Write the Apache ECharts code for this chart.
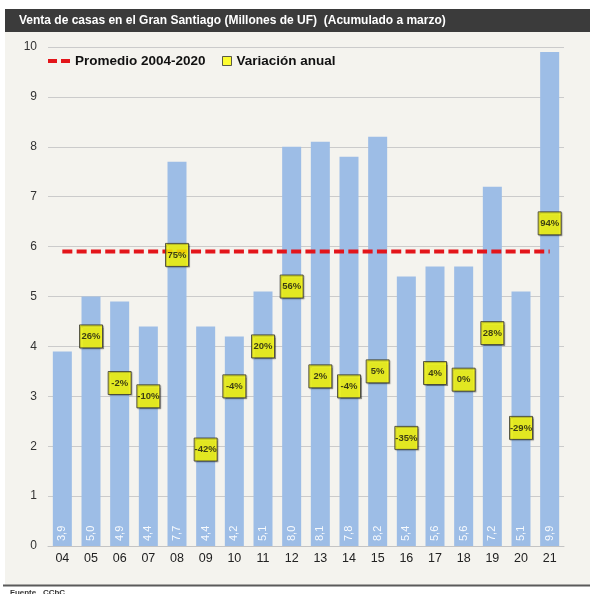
<!DOCTYPE html>
<html>
<head>
<meta charset="utf-8">
<script src="https://cdn.jsdelivr.net/npm/echarts@6/dist/echarts.min.js"></script>
<style>
  html, body { margin: 0; padding: 0; background: #ffffff; }
  #chart { width: 590px; height: 594px; }
</style>
</head>
<body>
<div id="chart"></div>
<script>
// Years (2004–2021), sales in millions of UF accumulated to March
const years = ['04', '05', '06', '07', '08', '09', '10', '11', '12', '13', '14', '15', '16', '17', '18', '19', '20', '21'];
const ventas = [3.9, 5.0, 4.9, 4.4, 7.7, 4.4, 4.2, 5.1, 8.0, 8.1, 7.8, 8.2, 5.4, 5.6, 5.6, 7.2, 5.1, 9.9];
// Annual change (%), no value for the first year
const variacion = [null, 26, -2, -10, 75, -42, -4, 20, 56, 2, -4, 5, -35, 4, 0, 28, -29, 94];
// 2004–2020 average
const promedio = 5.9;

const FONT = "'Liberation Sans', Arial, Helvetica, sans-serif";

const chart = echarts.init(document.getElementById('chart'), null, { renderer: 'canvas' });

chart.setOption({
  animation: false,
  backgroundColor: '#ffffff',
  textStyle: { fontFamily: FONT },
  title: {
    text: 'Venta de casas en el Gran Santiago (Millones de UF)  (Acumulado a marzo)',
    left: 19,
    top: 13,
    padding: 0,
    textStyle: { color: '#ffffff', fontSize: 12, fontWeight: 'bold', fontFamily: FONT, lineHeight: 15 }
  },
  graphic: [
    { type: 'rect', z: -10, silent: true, shape: { x: 5, y: 32, width: 585, height: 553 }, style: { fill: '#f4f3ee' } },
    { type: 'rect', z: -9, silent: true, shape: { x: 5, y: 9, width: 585, height: 23 }, style: { fill: '#3b3b3b' } },
    { type: 'rect', z: -9, silent: true, shape: { x: 3, y: 584.5, width: 587, height: 2 }, style: { fill: '#5a5a5a' } },
    { type: 'text', silent: true, left: 10, top: 589,
      style: { text: 'Fuente   CChC', fill: '#333333', font: "bold 8px " + FONT } }
  ],
  legend: [
    {
      left: 48, top: 54, padding: 0,
      itemWidth: 22, itemHeight: 4,
      textStyle: { fontSize: 13.5, fontWeight: 'bold', color: '#111111', fontFamily: FONT },
      data: [{
        name: 'Promedio 2004-2020',
        // two short dashes
        icon: 'path://M0,0H9V4H0Z M13,0H22V4H13Z',
        itemStyle: { color: '#e3151a', borderWidth: 0 }
      }]
    },
    {
      left: 222, top: 54, padding: 0,
      itemWidth: 9, itemHeight: 9,
      textStyle: { fontSize: 13.5, fontWeight: 'bold', color: '#111111', fontFamily: FONT },
      data: [{
        name: 'Variación anual',
        icon: 'rect',
        itemStyle: { color: '#ffff00', borderColor: '#333333', borderWidth: 1 }
      }]
    }
  ],
  grid: { left: 48, right: 26, top: 47, bottom: 48, containLabel: false },
  xAxis: {
    type: 'category',
    data: years,
    axisTick: { show: false },
    axisLine: { show: true, lineStyle: { color: '#c4c4c4', width: 1 } },
    axisLabel: { color: '#222222', fontSize: 12.5, margin: 6, fontFamily: FONT }
  },
  yAxis: [
    {
      type: 'value', min: 0, max: 10, interval: 1,
      axisLine: { show: false }, axisTick: { show: false },
      axisLabel: { color: '#333333', fontSize: 12, margin: 11, fontFamily: FONT },
      splitLine: { lineStyle: { color: '#cbcbcb', width: 1 } }
    },
    {
      type: 'value', min: -100, max: 200, show: false,
      splitLine: { show: false }
    }
  ],
  series: [
    {
      name: 'Ventas',
      type: 'bar',
      data: ventas,
      barWidth: 19,
      itemStyle: { color: '#9dbde6' },
      label: {
        show: true,
        position: 'insideBottom',
        distance: 5,
        rotate: 90,
        align: 'left',
        verticalAlign: 'middle',
        color: 'rgba(255,255,255,0.92)',
        fontSize: 11,
        fontFamily: FONT,
        formatter: p => p.value.toFixed(1).replace('.', ',')
      },
      z: 2
    },
    {
      name: 'Promedio 2004-2020',
      type: 'line',
      data: years.map(() => promedio),
      symbol: 'none',
      itemStyle: { color: '#e3151a' },
      lineStyle: { color: '#e3151a', width: 4, type: [10, 4.3] },
      z: 3
    },
    {
      name: 'Variación anual',
      type: 'scatter',
      yAxisIndex: 1,
      data: variacion,
      symbol: 'rect',
      symbolSize: 23,
      itemStyle: {
        color: '#ffff00', borderColor: '#333333', borderWidth: 1,
        shadowColor: 'rgba(0,0,0,0.35)', shadowBlur: 1, shadowOffsetX: 1, shadowOffsetY: 1
      },
      label: {
        show: true,
        position: 'inside',
        color: '#111111',
        fontSize: 9.5,
        fontWeight: 'bold',
        fontFamily: FONT,
        formatter: p => p.value + '%'
      },
      z: 5
    }
  ]
});
</script>
</body>
</html>
